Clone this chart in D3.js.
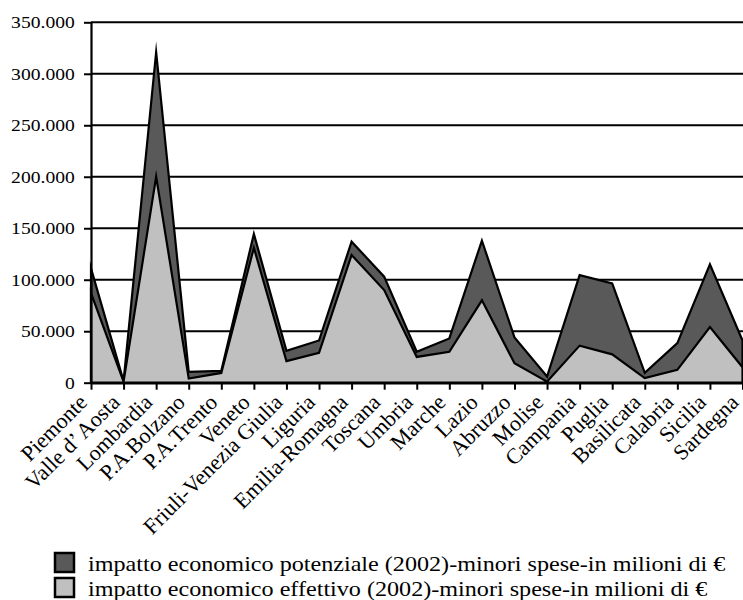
<!DOCTYPE html>
<html>
<head>
<meta charset="utf-8">
<script src="https://cdn.jsdelivr.net/npm/d3@7"></script>
<style>
  html, body { margin: 0; padding: 0; background: #ffffff; }
  svg { display: block; }
  svg text { font-family: "Liberation Serif", "Times New Roman", serif; }
</style>
</head>
<body>
<svg id="chart" width="743" height="600"></svg>
<script>
// Regions of Italy, in chart order
const regions = [
  "Piemonte", "Valle d\u2019 Aosta", "Lombardia", "P.A.Bolzano", "P.A.Trento",
  "Veneto", "Friuli-Venezia Giulia", "Liguria", "Emilia-Romagna", "Toscana",
  "Umbria", "Marche", "Lazio", "Abruzzo", "Molise", "Campania", "Puglia",
  "Basilicata", "Calabria", "Sicilia", "Sardegna"
];

// Potential economic impact (2002), lower spending, millions of euro
const potenziale = [
  111000, 1500, 321000, 10500, 11500, 144500, 31000, 41000, 137000, 103000,
  30000, 43000, 138000, 44000, 6000, 104500, 96500, 9500, 38500, 115000, 41000
];

// Actual economic impact (2002), lower spending, millions of euro
const effettivo = [
  87000, 1000, 200000, 4000, 9500, 131000, 21000, 29000, 124000, 90000,
  25000, 30000, 80000, 19000, 1000, 36000, 27500, 4500, 12500, 54000, 15000
];

const yTicks = [0, 50000, 100000, 150000, 200000, 250000, 300000, 350000];

const legendLabels = [
  "impatto economico potenziale (2002)-minori spese-in milioni di \u20AC",
  "impatto economico effettivo (2002)-minori spese-in milioni di \u20AC"
];

const colors = { potenziale: "#595959", effettivo: "#c0c0c0" };
const serif = "'Liberation Serif', 'Times New Roman', serif";

const svg = d3.select("#chart");

const plot = { left: 91, right: 742.5, top: 22.3, bottom: 382.7 };

const x = d3.scalePoint().domain(regions).range([plot.left, plot.right]);
const y = d3.scaleLinear().domain([0, 350000]).range([plot.bottom, plot.top]);

const itLocale = d3.formatLocale({ decimal: ",", thousands: ".", grouping: [3], currency: ["", " \u20AC"] });
const fmt = itLocale.format(",d");

// Horizontal gridlines
svg.append("g")
  .selectAll("line")
  .data(yTicks.filter(d => d > 0))
  .join("line")
  .attr("x1", plot.left).attr("x2", 743)
  .attr("y1", d => y(d)).attr("y2", d => y(d))
  .attr("stroke", "#000").attr("stroke-width", 1.9);

// Areas: potential behind, actual in front
const area = vals => d3.area()
  .x((d, i) => x(regions[i]))
  .y0(y(0))
  .y1(d => y(d))
  .curve(d3.curveLinear)(vals);

svg.append("path")
  .attr("d", area(potenziale))
  .attr("fill", colors.potenziale)
  .attr("stroke", "#000").attr("stroke-width", 2.2)
  .attr("stroke-linejoin", "miter").attr("stroke-miterlimit", 12);

svg.append("path")
  .attr("d", area(effettivo))
  .attr("fill", colors.effettivo)
  .attr("stroke", "#000").attr("stroke-width", 2.2)
  .attr("stroke-linejoin", "miter").attr("stroke-miterlimit", 12);

// Y axis
const yAxis = svg.append("g")
  .attr("transform", `translate(${plot.left},0)`)
  .call(d3.axisLeft(y).tickValues(yTicks).tickFormat(fmt).tickSizeInner(7).tickSizeOuter(0).tickPadding(7.5));
yAxis.attr("font-family", null);
yAxis.select(".domain").attr("stroke", "#000").attr("stroke-width", 2.2);
yAxis.selectAll(".tick line").attr("stroke", "#000").attr("stroke-width", 2);
yAxis.selectAll(".tick text")
  .style("font-family", serif)
  .attr("font-size", 17.5)
  .attr("transform", "scale(1.12,1)")
  .attr("fill", "#000");

// X axis
const xAxis = svg.append("g")
  .attr("transform", `translate(0,${plot.bottom})`)
  .call(d3.axisBottom(x).tickSizeInner(7).tickSizeOuter(0).tickFormat(""));
xAxis.select(".domain").attr("stroke", "#000").attr("stroke-width", 2.4);
xAxis.selectAll(".tick line").attr("stroke", "#000").attr("stroke-width", 2);
xAxis.selectAll(".tick text").remove();

// Rotated region labels
svg.append("g")
  .selectAll("text")
  .data(regions)
  .join("text")
  .attr("transform", d => `translate(${x(d) - 2.5},${plot.bottom + 21}) rotate(-45)`)
  .attr("text-anchor", "end")
  .style("font-family", serif)
  .attr("font-size", 22)
  .attr("fill", "#000")
  .text(d => d);

// Legend
const legend = svg.append("g");
const legendRows = [
  { label: legendLabels[0], color: colors.potenziale, y: 553 },
  { label: legendLabels[1], color: colors.effettivo, y: 578 }
];
legendRows.forEach(r => {
  legend.append("rect")
    .attr("x", 55).attr("y", r.y).attr("width", 19).attr("height", 19)
    .attr("fill", r.color).attr("stroke", "#000").attr("stroke-width", 2.5);
  legend.append("text")
    .attr("transform", `translate(88,${r.y + 18}) scale(1.15,1)`)
    .style("font-family", serif)
    .attr("font-size", 21).attr("fill", "#000")
    .text(r.label);
});
</script>
</body>
</html>
